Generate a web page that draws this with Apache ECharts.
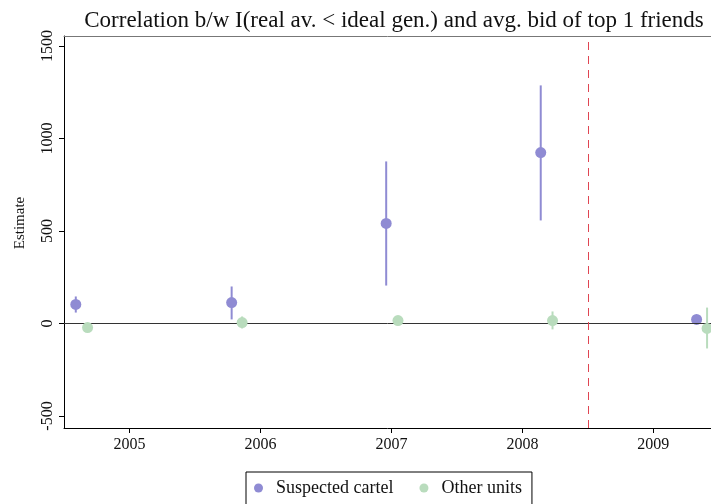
<!DOCTYPE html>
<html>
<head>
<meta charset="utf-8">
<script src="https://cdn.jsdelivr.net/npm/echarts@6/dist/echarts.min.js"></script>
<style>
  html, body { margin: 0; padding: 0; background: #fff; }
  #chart01 { width: 711px; height: 504px; }
</style>
</head>
<body>
<div id="chart01"></div>
<script>
// estimates
var cartelYear = [2004.59, 2005.78, 2006.96, 2008.14, 2009.33];
var cartelEst  = [103, 113, 541, 924, 22];
var cartelLo   = [59, 22, 205, 557, 2];
var cartelHi   = [146, 200, 876, 1287, 45];

var otherYear = [2004.68, 2005.86, 2007.05, 2008.23, 2009.41];
var otherEst  = [-22, 5, 16, 16, -27];
var otherLo   = [-32, -27, 2, -32, -135];
var otherHi   = [-12, 38, 30, 65, 86];

var yearTicks = [2005, 2006, 2007, 2008, 2009];
var estTicks  = [-500, 0, 500, 1000, 1500];
var cutYear   = 2008.5;

var serif = '"Liberation Serif", "DejaVu Serif", serif';
var purple = '#8f8bd3';
var green  = '#b9dcbd';

function points(xs, ys) {
    var out = [];
    xs.forEach(function (x, i) { out.push([x, ys[i]]); });
    return out;
}
function bars(xs, lo, hi) {
    var out = [];
    xs.forEach(function (x, i) { out.push([x, lo[i], hi[i]]); });
    return out;
}
function errorBar(color) {
    return function (params, api) {
        var a = api.coord([api.value(0), api.value(1)]);
        var b = api.coord([api.value(0), api.value(2)]);
        return {
            type: 'line',
            shape: { x1: a[0], y1: a[1], x2: b[0], y2: b[1] },
            style: { stroke: color, lineWidth: 2 }
        };
    };
}

var xMin = 2004.5, xMax = 2009.44;

var cha01 = echarts.init(document.getElementById('chart01'));
var opt01 = {
    animation: false,
    textStyle: { fontFamily: serif },
    title: {
        text: 'Correlation b/w I(real av. < ideal gen.) and avg. bid of top 1 friends',
        left: 389,
        textAlign: 'center',
        top: 4,
        textStyle: { fontFamily: serif, fontSize: 23, fontWeight: 'normal', color: '#111' }
    },
    legend: {
        data: ['Suspected cartel', 'Other units'],
        left: 246,
        top: 472,
        padding: [7, 10, 12, 8],
        borderColor: '#000',
        borderWidth: 1,
        itemWidth: 9,
        itemHeight: 9,
        itemGap: 26,
        textStyle: { fontFamily: serif, fontSize: 18, color: '#111', padding: [0, 0, 0, 8] }
    },
    grid: { left: 64, right: 0, top: 36, bottom: 76 },
    xAxis: [
        {
            type: 'value',
            min: xMin,
            max: xMax,
            splitLine: { show: false },
            axisLine: { onZero: false, lineStyle: { color: '#000', width: 1 } },
            axisTick: { show: true, length: 5, customValues: yearTicks, lineStyle: { color: '#000' } },
            axisLabel: {
                customValues: yearTicks,
                formatter: function (v) { return String(v); },
                fontFamily: serif, fontSize: 16, color: '#111', margin: 9
            }
        },
        {
            // top frame line only
            type: 'value',
            position: 'top',
            min: xMin,
            max: xMax,
            splitLine: { show: false },
            axisLine: { onZero: false, lineStyle: { color: '#777', width: 1 } },
            axisTick: { show: false },
            axisLabel: { show: false }
        }
    ],
    yAxis: {
        type: 'value',
        min: -565,
        max: 1554,
        name: 'Estimate',
        nameLocation: 'middle',
        nameGap: 36,
        nameTextStyle: { fontFamily: serif, fontSize: 15, color: '#111', padding: [0, 0, 0, 18] },
        splitLine: { show: false },
        axisLine: { onZero: false, lineStyle: { color: '#000', width: 1 } },
        axisTick: { show: true, length: 5, customValues: estTicks, lineStyle: { color: '#000' } },
        axisLabel: {
            customValues: estTicks,
            rotate: 90,
            formatter: function (v) { return String(v); },
            fontFamily: serif, fontSize: 16, color: '#111', margin: 8
        }
    },
    series: [
        {
            type: 'custom',
            silent: true,
            renderItem: errorBar(purple),
            data: bars(cartelYear, cartelLo, cartelHi),
            z: 3,
            markLine: {
                silent: true,
                symbol: 'none',
                label: { show: false },
                data: [
                    { yAxis: 0, lineStyle: { color: '#333', width: 1, type: 'solid' } },
                    { xAxis: cutYear, lineStyle: { color: '#e04552', width: 1, type: [8, 6] } }
                ]
            }
        },
        {
            name: 'Suspected cartel',
            type: 'scatter',
            symbol: 'circle',
            symbolSize: 11,
            itemStyle: { color: purple, opacity: 1 },
            data: points(cartelYear, cartelEst),
            z: 4
        },
        {
            type: 'custom',
            silent: true,
            renderItem: errorBar(green),
            data: bars(otherYear, otherLo, otherHi),
            z: 5
        },
        {
            name: 'Other units',
            type: 'scatter',
            symbol: 'circle',
            symbolSize: 11,
            itemStyle: { color: green, opacity: 1 },
            data: points(otherYear, otherEst),
            z: 6
        }
    ]
};
cha01.setOption(opt01);
</script>
</body>
</html>
